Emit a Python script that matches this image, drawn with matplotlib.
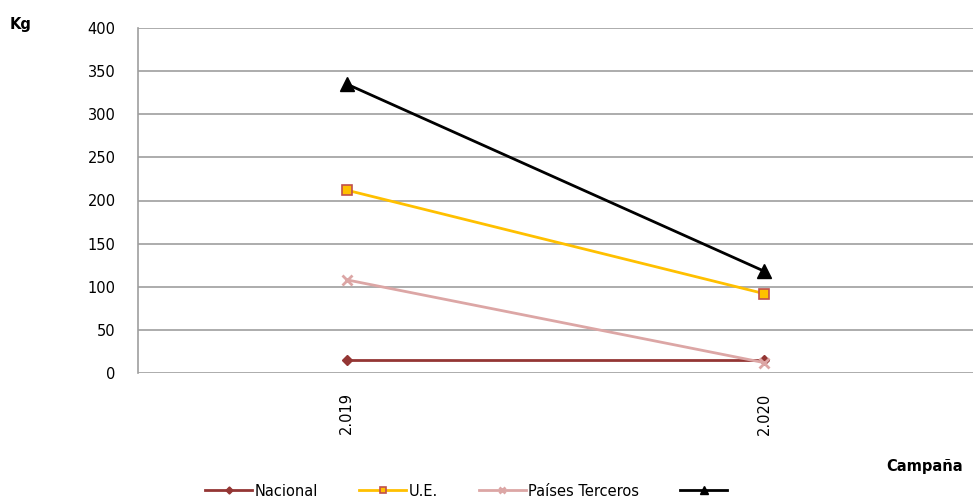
import matplotlib
matplotlib.use('Agg')
import matplotlib.pyplot as plt

campanas = ['2.019', '2.020']
nacional = [15, 15]
ue = [212, 92]
terceros = [108, 12]
total = [335, 118]

plt.rcParams['font.family'] = ['DejaVu Sans']

fig = plt.figure(figsize=(9.73, 5.04), dpi=100)
ax = fig.add_axes([138/973, 1 - 373/504, (973 - 138)/973, 345/504])

x = range(len(campanas))
ax.plot(x, nacional, color='#943634', lw=2, marker='D', ms=5.5, label='Nacional')
ax.plot(x, ue, color='#FFC000', lw=2, marker='s', ms=7.5, mfc='#FFC000', mec='#C0504D', mew=1.2, label='U.E.')
ax.plot(x, terceros, color='#DCA6A5', lw=2, marker='x', ms=7.5, mew=2, label='Países Terceros')
ax.plot(x, total, color='black', lw=2, marker='^', ms=9.5, label=' ')

ax.set_xlim(-0.5, 1.5)
ax.set_ylim(0, 400)
ax.set_yticks(range(0, 401, 50))
ax.set_xticks(list(x))
ax.set_xticklabels(campanas, rotation=90, fontsize=10.5)
ax.tick_params(axis='y', labelsize=10.5, length=0, pad=16)
ax.tick_params(axis='x', length=0, pad=14)
ax.grid(axis='y', color='#9E9E9E', lw=1.2)
ax.set_axisbelow(True)
for s in ['top', 'right', 'bottom']:
    ax.spines[s].set_visible(False)
ax.spines['left'].set_color('#9E9E9E')
ax.spines['left'].set_linewidth(1.2)

fig.text(10/973, 1 - 25/504, 'Kg', fontsize=10.5, fontweight='bold', ha='left', va='center')
fig.text(963/973, 1 - 467/504, 'Campaña', fontsize=10.5, fontweight='bold', ha='right', va='center')

fig.legend(loc='center', bbox_to_anchor=(470/973, 1 - 491/504), ncol=4, frameon=False,
           fontsize=10.5, handlelength=3.2, columnspacing=2.8, handletextpad=0.2, markerscale=0.65)

fig.savefig('out.png', dpi=100)
